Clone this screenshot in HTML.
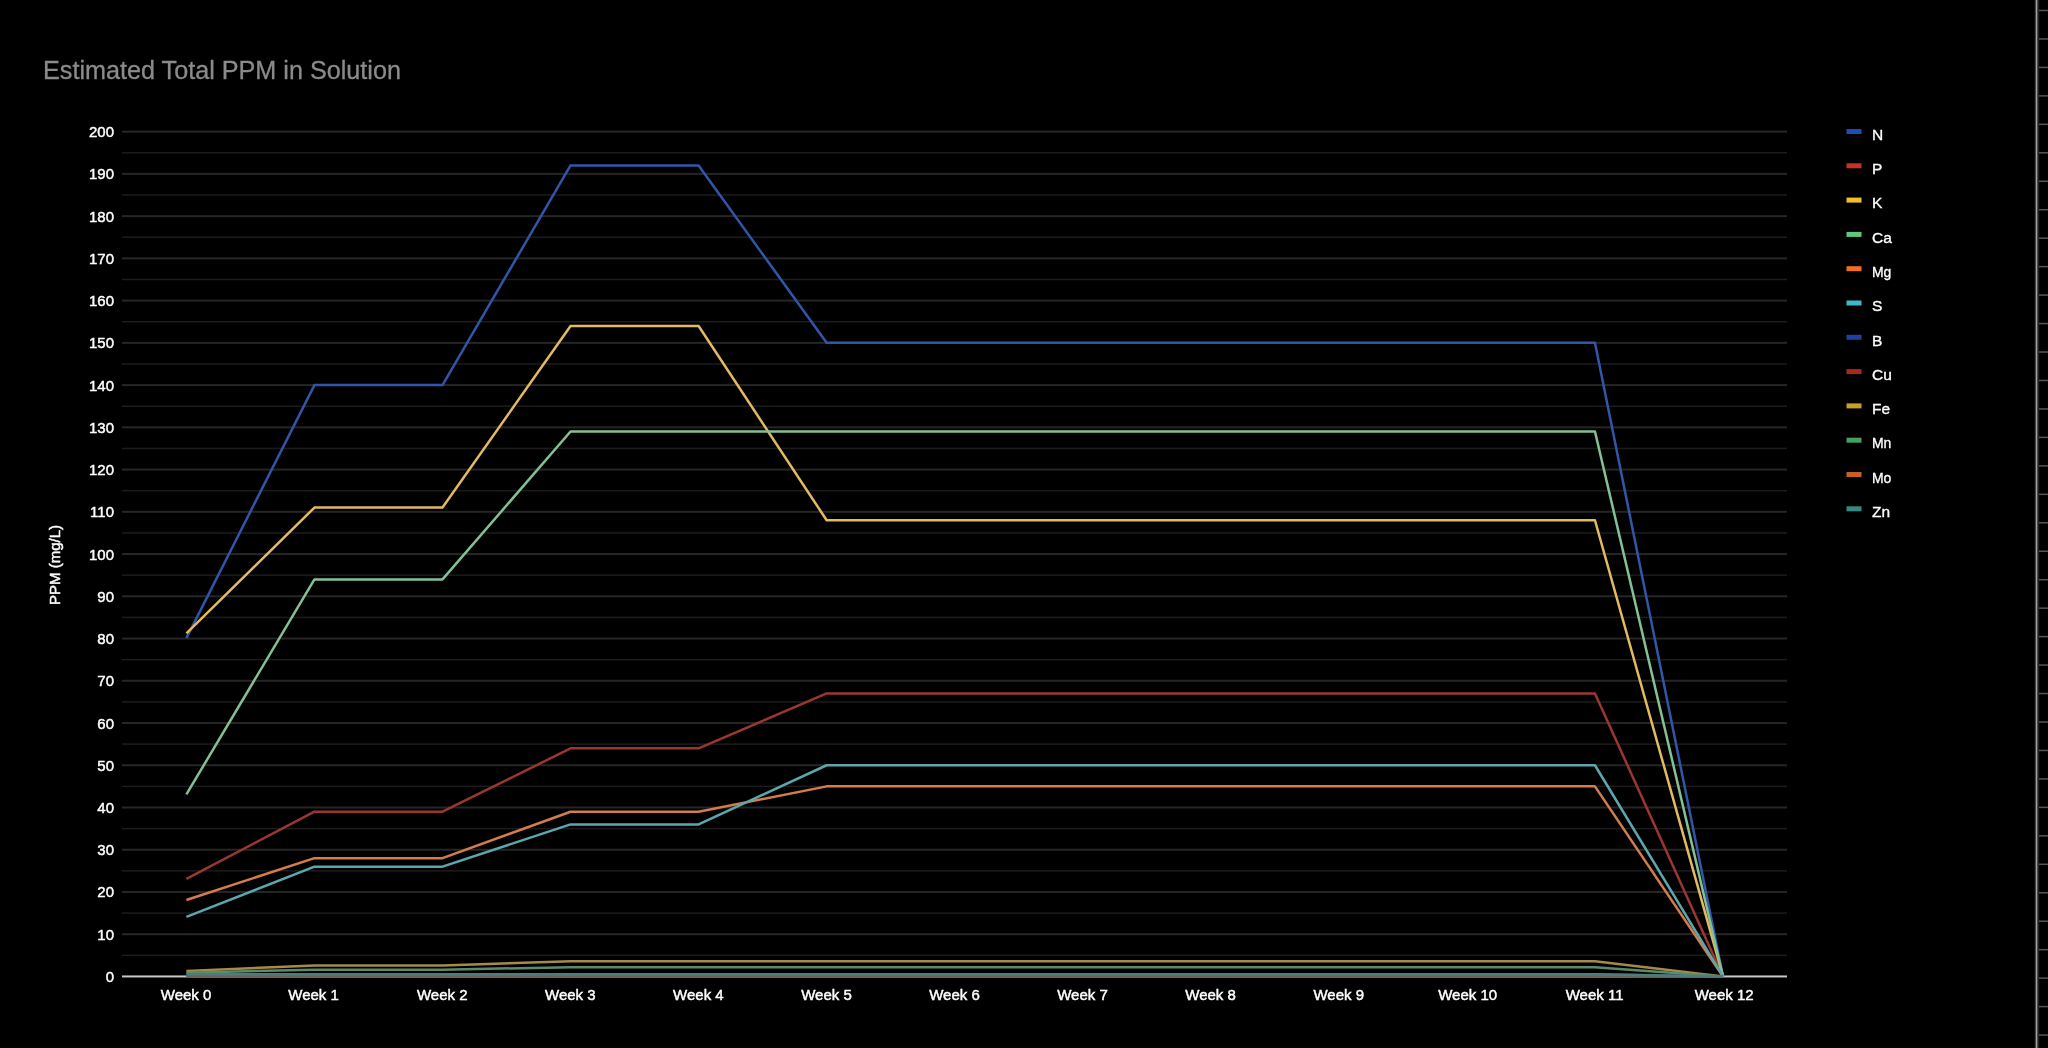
<!DOCTYPE html>
<html><head><meta charset="utf-8"><style>
html,body{margin:0;padding:0;background:#000;}
body{width:2048px;height:1048px;overflow:hidden;}
svg{display:block;}
text{font-family:"Liberation Sans",sans-serif;}
.ax{font-size:15px;fill:#ffffff;stroke:#ffffff;stroke-width:0.45px;}
.lg{font-size:15.5px;fill:#ffffff;stroke:#ffffff;stroke-width:0.35px;}
.tt{font-size:25.2px;fill:#8c8c8c;stroke:#8c8c8c;stroke-width:0.3px;}
</style></head><body>
<svg width="2048" height="1048" viewBox="0 0 2048 1048">
<rect width="2048" height="1048" fill="#000"/>
<rect x="122" y="954.58" width="1665" height="1.5" fill="#1c1c1c"/>
<rect x="122" y="933.21" width="1665" height="2" fill="#262626"/>
<rect x="122" y="912.34" width="1665" height="1.5" fill="#1c1c1c"/>
<rect x="122" y="890.97" width="1665" height="2" fill="#262626"/>
<rect x="122" y="870.10" width="1665" height="1.5" fill="#1c1c1c"/>
<rect x="122" y="848.73" width="1665" height="2" fill="#262626"/>
<rect x="122" y="827.86" width="1665" height="1.5" fill="#1c1c1c"/>
<rect x="122" y="806.49" width="1665" height="2" fill="#262626"/>
<rect x="122" y="785.62" width="1665" height="1.5" fill="#1c1c1c"/>
<rect x="122" y="764.25" width="1665" height="2" fill="#262626"/>
<rect x="122" y="743.38" width="1665" height="1.5" fill="#1c1c1c"/>
<rect x="122" y="722.01" width="1665" height="2" fill="#262626"/>
<rect x="122" y="701.14" width="1665" height="1.5" fill="#1c1c1c"/>
<rect x="122" y="679.77" width="1665" height="2" fill="#262626"/>
<rect x="122" y="658.90" width="1665" height="1.5" fill="#1c1c1c"/>
<rect x="122" y="637.53" width="1665" height="2" fill="#262626"/>
<rect x="122" y="616.66" width="1665" height="1.5" fill="#1c1c1c"/>
<rect x="122" y="595.29" width="1665" height="2" fill="#262626"/>
<rect x="122" y="574.42" width="1665" height="1.5" fill="#1c1c1c"/>
<rect x="122" y="553.05" width="1665" height="2" fill="#262626"/>
<rect x="122" y="532.18" width="1665" height="1.5" fill="#1c1c1c"/>
<rect x="122" y="510.81" width="1665" height="2" fill="#262626"/>
<rect x="122" y="489.94" width="1665" height="1.5" fill="#1c1c1c"/>
<rect x="122" y="468.57" width="1665" height="2" fill="#262626"/>
<rect x="122" y="447.70" width="1665" height="1.5" fill="#1c1c1c"/>
<rect x="122" y="426.33" width="1665" height="2" fill="#262626"/>
<rect x="122" y="405.46" width="1665" height="1.5" fill="#1c1c1c"/>
<rect x="122" y="384.09" width="1665" height="2" fill="#262626"/>
<rect x="122" y="363.22" width="1665" height="1.5" fill="#1c1c1c"/>
<rect x="122" y="341.85" width="1665" height="2" fill="#262626"/>
<rect x="122" y="320.98" width="1665" height="1.5" fill="#1c1c1c"/>
<rect x="122" y="299.61" width="1665" height="2" fill="#262626"/>
<rect x="122" y="278.74" width="1665" height="1.5" fill="#1c1c1c"/>
<rect x="122" y="257.37" width="1665" height="2" fill="#262626"/>
<rect x="122" y="236.50" width="1665" height="1.5" fill="#1c1c1c"/>
<rect x="122" y="215.13" width="1665" height="2" fill="#262626"/>
<rect x="122" y="194.26" width="1665" height="1.5" fill="#1c1c1c"/>
<rect x="122" y="172.89" width="1665" height="2" fill="#262626"/>
<rect x="122" y="152.02" width="1665" height="1.5" fill="#1c1c1c"/>
<rect x="122" y="130.65" width="1665" height="2" fill="#262626"/>
<rect x="122" y="975.45" width="1665" height="2" fill="#c8c8c8"/>
<polyline points="186.4,638.11 314.45000000000005,385.09 442.5,385.09 570.5500000000001,165.44 698.6,165.44 826.65,342.85 954.7,342.85 1082.7500000000002,342.85 1210.8000000000002,342.85 1338.8500000000001,342.85 1466.9,342.85 1594.9500000000003,342.85 1723.0000000000002,976.45" fill="none" stroke="#3156a8" stroke-width="2.5" stroke-linejoin="round"/>
<polyline points="186.4,878.88 314.45000000000005,811.71 442.5,811.71 570.5500000000001,748.35 698.6,748.35 826.65,693.44 954.7,693.44 1082.7500000000002,693.44 1210.8000000000002,693.44 1338.8500000000001,693.44 1466.9,693.44 1594.9500000000003,693.44 1723.0000000000002,976.45" fill="none" stroke="#9c3630" stroke-width="2.5" stroke-linejoin="round"/>
<polyline points="186.4,633.46 314.45000000000005,507.59 442.5,507.59 570.5500000000001,325.95 698.6,325.95 826.65,520.26 954.7,520.26 1082.7500000000002,520.26 1210.8000000000002,520.26 1338.8500000000001,520.26 1466.9,520.26 1594.9500000000003,520.26 1723.0000000000002,976.45" fill="none" stroke="#e2ba62" stroke-width="2.5" stroke-linejoin="round"/>
<polyline points="186.4,794.40 314.45000000000005,579.39 442.5,579.39 570.5500000000001,431.55 698.6,431.55 826.65,431.55 954.7,431.55 1082.7500000000002,431.55 1210.8000000000002,431.55 1338.8500000000001,431.55 1466.9,431.55 1594.9500000000003,431.55 1723.0000000000002,976.45" fill="none" stroke="#84c094" stroke-width="2.5" stroke-linejoin="round"/>
<polyline points="186.4,900.00 314.45000000000005,858.18 442.5,858.18 570.5500000000001,811.71 698.6,811.71 826.65,786.37 954.7,786.37 1082.7500000000002,786.37 1210.8000000000002,786.37 1338.8500000000001,786.37 1466.9,786.37 1594.9500000000003,786.37 1723.0000000000002,976.45" fill="none" stroke="#d47c4c" stroke-width="2.5" stroke-linejoin="round"/>
<polyline points="186.4,916.89 314.45000000000005,866.63 442.5,866.63 570.5500000000001,824.39 698.6,824.39 826.65,765.25 954.7,765.25 1082.7500000000002,765.25 1210.8000000000002,765.25 1338.8500000000001,765.25 1466.9,765.25 1594.9500000000003,765.25 1723.0000000000002,976.45" fill="none" stroke="#5ca6ae" stroke-width="2.5" stroke-linejoin="round"/>
<polyline points="186.4,974.76 314.45000000000005,974.34 442.5,974.34 570.5500000000001,974.34 698.6,974.34 826.65,974.34 954.7,974.34 1082.7500000000002,974.34 1210.8000000000002,974.34 1338.8500000000001,974.34 1466.9,974.34 1594.9500000000003,974.34 1723.0000000000002,976.45" fill="none" stroke="#284a90" stroke-width="2.5" stroke-linejoin="round"/>
<polyline points="186.4,976.24 314.45000000000005,976.24 442.5,976.24 570.5500000000001,976.24 698.6,976.24 826.65,976.24 954.7,976.24 1082.7500000000002,976.24 1210.8000000000002,976.24 1338.8500000000001,976.24 1466.9,976.24 1594.9500000000003,976.24 1723.0000000000002,976.45" fill="none" stroke="#6a5a52" stroke-width="2.5" stroke-linejoin="round"/>
<polyline points="186.4,970.96 314.45000000000005,965.47 442.5,965.47 570.5500000000001,961.24 698.6,961.24 826.65,961.24 954.7,961.24 1082.7500000000002,961.24 1210.8000000000002,961.24 1338.8500000000001,961.24 1466.9,961.24 1594.9500000000003,961.24 1723.0000000000002,976.45" fill="none" stroke="#a58a48" stroke-width="2.5" stroke-linejoin="round"/>
<polyline points="186.4,972.65 314.45000000000005,969.69 442.5,969.69 570.5500000000001,967.16 698.6,967.16 826.65,967.16 954.7,967.16 1082.7500000000002,967.16 1210.8000000000002,967.16 1338.8500000000001,967.16 1466.9,967.16 1594.9500000000003,967.16 1723.0000000000002,976.45" fill="none" stroke="#5a8c6c" stroke-width="2.5" stroke-linejoin="round"/>
<polyline points="186.4,976.45 314.45000000000005,976.45 442.5,976.45 570.5500000000001,976.45 698.6,976.45 826.65,976.45 954.7,976.45 1082.7500000000002,976.45 1210.8000000000002,976.45 1338.8500000000001,976.45 1466.9,976.45 1594.9500000000003,976.45 1723.0000000000002,976.45" fill="none" stroke="#6a6458" stroke-width="2.5" stroke-linejoin="round"/>
<polyline points="186.4,974.34 314.45000000000005,974.34 442.5,974.34 570.5500000000001,974.34 698.6,974.34 826.65,974.34 954.7,974.34 1082.7500000000002,974.34 1210.8000000000002,974.34 1338.8500000000001,974.34 1466.9,974.34 1594.9500000000003,974.34 1723.0000000000002,976.45" fill="none" stroke="#4e7c7c" stroke-width="2.5" stroke-linejoin="round"/>
<rect x="1846.5" y="129.00" width="15" height="5" fill="#1d4cb4"/>
<rect x="1846.5" y="163.30" width="15" height="5" fill="#c8302a"/>
<rect x="1846.5" y="197.60" width="15" height="5" fill="#f0c026"/>
<rect x="1846.5" y="231.90" width="15" height="5" fill="#5fc880"/>
<rect x="1846.5" y="266.20" width="15" height="5" fill="#f07020"/>
<rect x="1846.5" y="300.50" width="15" height="5" fill="#40b8c8"/>
<rect x="1846.5" y="334.80" width="15" height="5" fill="#1a44a0"/>
<rect x="1846.5" y="369.10" width="15" height="5" fill="#a82820"/>
<rect x="1846.5" y="403.40" width="15" height="5" fill="#c8a028"/>
<rect x="1846.5" y="437.70" width="15" height="5" fill="#48a060"/>
<rect x="1846.5" y="472.00" width="15" height="5" fill="#c86020"/>
<rect x="1846.5" y="506.30" width="15" height="5" fill="#348a80"/>
<rect x="2034" y="0" width="1.6" height="1048" fill="#0d0d0d"/>
<rect x="2037.4" y="0" width="1.8" height="1048" fill="#222"/>
<rect x="2035.6" y="0" width="1.8" height="1048" fill="#a0a0a0"/>
<rect x="2039" y="9.75" width="9" height="1.5" fill="#555"/>
<rect x="2039" y="38.21" width="9" height="1.5" fill="#555"/>
<rect x="2039" y="66.67" width="9" height="1.5" fill="#555"/>
<rect x="2039" y="95.13" width="9" height="1.5" fill="#555"/>
<rect x="2039" y="123.59" width="9" height="1.5" fill="#555"/>
<rect x="2039" y="152.05" width="9" height="1.5" fill="#555"/>
<rect x="2039" y="180.51" width="9" height="1.5" fill="#555"/>
<rect x="2039" y="208.97" width="9" height="1.5" fill="#555"/>
<rect x="2039" y="237.43" width="9" height="1.5" fill="#555"/>
<rect x="2039" y="265.89" width="9" height="1.5" fill="#555"/>
<rect x="2039" y="294.35" width="9" height="1.5" fill="#555"/>
<rect x="2039" y="322.81" width="9" height="1.5" fill="#555"/>
<rect x="2039" y="351.27" width="9" height="1.5" fill="#555"/>
<rect x="2039" y="379.73" width="9" height="1.5" fill="#555"/>
<rect x="2039" y="408.19" width="9" height="1.5" fill="#555"/>
<rect x="2039" y="436.65" width="9" height="1.5" fill="#555"/>
<rect x="2039" y="465.11" width="9" height="1.5" fill="#555"/>
<rect x="2039" y="493.57" width="9" height="1.5" fill="#555"/>
<rect x="2039" y="522.03" width="9" height="1.5" fill="#555"/>
<rect x="2039" y="550.49" width="9" height="1.5" fill="#555"/>
<rect x="2039" y="578.95" width="9" height="1.5" fill="#555"/>
<rect x="2039" y="607.41" width="9" height="1.5" fill="#555"/>
<rect x="2039" y="635.87" width="9" height="1.5" fill="#555"/>
<rect x="2039" y="664.33" width="9" height="1.5" fill="#555"/>
<rect x="2039" y="692.79" width="9" height="1.5" fill="#555"/>
<rect x="2039" y="721.25" width="9" height="1.5" fill="#555"/>
<rect x="2039" y="749.71" width="9" height="1.5" fill="#555"/>
<rect x="2039" y="778.17" width="9" height="1.5" fill="#555"/>
<rect x="2039" y="806.63" width="9" height="1.5" fill="#555"/>
<rect x="2039" y="835.09" width="9" height="1.5" fill="#555"/>
<rect x="2039" y="863.55" width="9" height="1.5" fill="#555"/>
<rect x="2039" y="892.01" width="9" height="1.5" fill="#555"/>
<rect x="2039" y="920.47" width="9" height="1.5" fill="#555"/>
<rect x="2039" y="948.93" width="9" height="1.5" fill="#555"/>
<rect x="2039" y="977.39" width="9" height="1.5" fill="#555"/>
<rect x="2039" y="1005.85" width="9" height="1.5" fill="#555"/>
<rect x="2039" y="1034.31" width="9" height="1.5" fill="#555"/>
<g style="opacity:0.999">
<text transform="translate(114,981.95) scale(1,1)" text-anchor="end" class="ax">0</text>
<text transform="translate(114,939.71) scale(1,1)" text-anchor="end" class="ax">10</text>
<text transform="translate(114,897.47) scale(1,1)" text-anchor="end" class="ax">20</text>
<text transform="translate(114,855.23) scale(1,1)" text-anchor="end" class="ax">30</text>
<text transform="translate(114,812.99) scale(1,1)" text-anchor="end" class="ax">40</text>
<text transform="translate(114,770.75) scale(1,1)" text-anchor="end" class="ax">50</text>
<text transform="translate(114,728.51) scale(1,1)" text-anchor="end" class="ax">60</text>
<text transform="translate(114,686.27) scale(1,1)" text-anchor="end" class="ax">70</text>
<text transform="translate(114,644.03) scale(1,1)" text-anchor="end" class="ax">80</text>
<text transform="translate(114,601.79) scale(1,1)" text-anchor="end" class="ax">90</text>
<text transform="translate(114,559.55) scale(1,1)" text-anchor="end" class="ax">100</text>
<text transform="translate(114,517.31) scale(1,1)" text-anchor="end" class="ax">110</text>
<text transform="translate(114,475.07) scale(1,1)" text-anchor="end" class="ax">120</text>
<text transform="translate(114,432.83) scale(1,1)" text-anchor="end" class="ax">130</text>
<text transform="translate(114,390.59) scale(1,1)" text-anchor="end" class="ax">140</text>
<text transform="translate(114,348.35) scale(1,1)" text-anchor="end" class="ax">150</text>
<text transform="translate(114,306.11) scale(1,1)" text-anchor="end" class="ax">160</text>
<text transform="translate(114,263.87) scale(1,1)" text-anchor="end" class="ax">170</text>
<text transform="translate(114,221.63) scale(1,1)" text-anchor="end" class="ax">180</text>
<text transform="translate(114,179.39) scale(1,1)" text-anchor="end" class="ax">190</text>
<text transform="translate(114,137.15) scale(1,1)" text-anchor="end" class="ax">200</text>
<text transform="translate(186.10,999.8) scale(1,1)" text-anchor="middle" class="ax">Week 0</text>
<text transform="translate(313.60,999.8) scale(1,1)" text-anchor="middle" class="ax">Week 1</text>
<text transform="translate(442.20,999.8) scale(1,1)" text-anchor="middle" class="ax">Week 2</text>
<text transform="translate(570.30,999.8) scale(1,1)" text-anchor="middle" class="ax">Week 3</text>
<text transform="translate(698.40,999.8) scale(1,1)" text-anchor="middle" class="ax">Week 4</text>
<text transform="translate(826.45,999.8) scale(1,1)" text-anchor="middle" class="ax">Week 5</text>
<text transform="translate(954.50,999.8) scale(1,1)" text-anchor="middle" class="ax">Week 6</text>
<text transform="translate(1082.50,999.8) scale(1,1)" text-anchor="middle" class="ax">Week 7</text>
<text transform="translate(1210.60,999.8) scale(1,1)" text-anchor="middle" class="ax">Week 8</text>
<text transform="translate(1338.70,999.8) scale(1,1)" text-anchor="middle" class="ax">Week 9</text>
<text transform="translate(1467.70,999.8) scale(1,1)" text-anchor="middle" class="ax">Week 10</text>
<text transform="translate(1594.60,999.8) scale(1,1)" text-anchor="middle" class="ax">Week 11</text>
<text transform="translate(1724.20,999.8) scale(1,1)" text-anchor="middle" class="ax">Week 12</text>
<text transform="translate(1872,139.70) scale(1,1)" class="lg">N</text>
<text transform="translate(1872,174.00) scale(1,1)" class="lg">P</text>
<text transform="translate(1872,208.30) scale(1,1)" class="lg">K</text>
<text transform="translate(1872,242.60) scale(1,1)" class="lg">Ca</text>
<text transform="translate(1872,276.90) scale(0.9,1)" class="lg">Mg</text>
<text transform="translate(1872,311.20) scale(1,1)" class="lg">S</text>
<text transform="translate(1872,345.50) scale(1,1)" class="lg">B</text>
<text transform="translate(1872,379.80) scale(1,1)" class="lg">Cu</text>
<text transform="translate(1872,414.10) scale(1,1)" class="lg">Fe</text>
<text transform="translate(1872,448.40) scale(0.9,1)" class="lg">Mn</text>
<text transform="translate(1872,482.70) scale(0.9,1)" class="lg">Mo</text>
<text transform="translate(1872,517.00) scale(1,1)" class="lg">Zn</text>
<text transform="translate(43,79.1) scale(1,1)" class="tt">Estimated Total PPM in Solution</text>
<text transform="translate(60,565) rotate(-90) scale(1,1)" text-anchor="middle" class="ax">PPM (mg/L)</text>
</g>
</svg>
</body></html>
